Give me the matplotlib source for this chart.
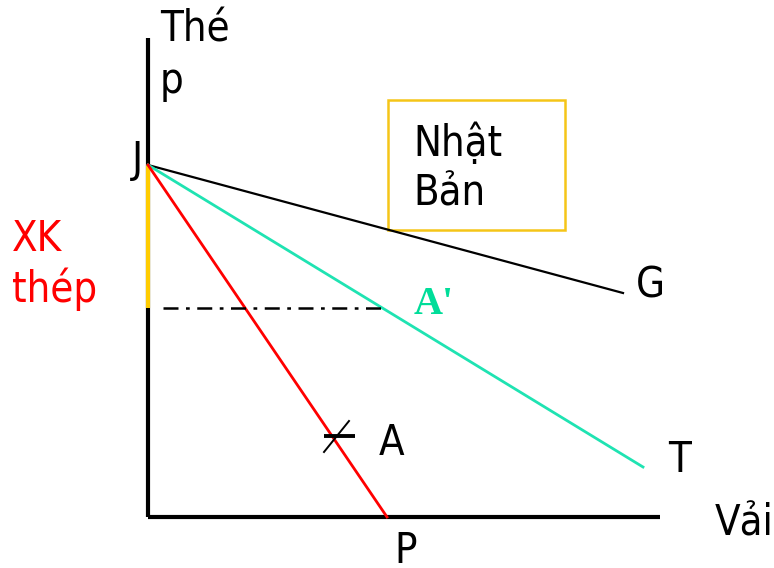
import matplotlib
matplotlib.use('Agg')
import matplotlib.pyplot as plt
from matplotlib.patches import Rectangle

# diagram units: origin at the corner of the axes, 1 unit ~ 1 px
axis_top = 479
axis_right = 512

J = (0, 352)
G = (475, 224)
T = (495, 50)
P = (239, 0)

# export level of steel (dash-dot line) and the A mark on the red line
export_y = 209
dash_x = [15, 234]
A_bar_x = [176, 207]
A_bar_y = [81, 81]
A_slash_x = [176, 201]
A_slash_y = [65, 96]

fig = plt.figure(figsize=(7.74, 5.68), dpi=100)
ax = fig.add_axes([0, 0, 1, 1])
ax.set_xlim(-148, 626)
ax.set_ylim(-51, 517)
ax.axis('off')

font = 'DejaVu Sans'
fs = 30
st = 'condensed'

# axes
ax.plot([0, 0], [0, axis_top], color='black', lw=3, solid_capstyle='butt')
ax.plot([0, axis_right], [0, 0], color='black', lw=3, solid_capstyle='butt')
# yellow part of the vertical axis
ax.plot([0, 0], [export_y, J[1]], color='#FFCC00', lw=3, solid_capstyle='butt')

# the three lines from J
ax.plot([J[0], G[0]], [J[1], G[1]], color='black', lw=1.6)
ax.plot([J[0], T[0]], [J[1], T[1]], color='#1FE3B2', lw=2)
ax.plot([J[0], P[0]], [J[1], P[1]], color='#FF0000', lw=2)

# dash-dot line
ax.plot(dash_x, [export_y, export_y], color='black', lw=1.8,
        dashes=[6, 3, 1.5, 3])

# mark at A
ax.plot(A_bar_x, A_bar_y, color='black', lw=2.8, solid_capstyle='butt')
ax.plot(A_slash_x, A_slash_y, color='black', lw=1.4)

# box "Nhật Bản"
ax.add_patch(Rectangle((240, 287), 177, 130, fill=False,
                       edgecolor='#F5C518', lw=1.8))


def label(x, y, s, color='black', ha='left'):
    ax.text(x, y, s, fontsize=fs, family=font, stretch=st, va='center',
            ha=ha, color=color)


label(265, 373, 'Nhật')
label(265, 324, 'Bản')
label(12, 487, 'Thé')
label(12, 436, 'p')
label(-5, 357, 'J', ha='right')
label(-136, 278, 'XK', color='#FF0000')
label(-136, 228, 'thép', color='#FF0000')
label(488, 231, 'G')
label(520, 57, 'T')
label(231, 74, 'A')
label(567, -7, 'Vải')
label(258, -34, 'P', ha='center')

ax.text(266, 213, "A'", fontsize=29, family='Liberation Serif', weight='bold',
        va='center', ha='left', color='#00DD99')

fig.savefig('out.png', dpi=100)
